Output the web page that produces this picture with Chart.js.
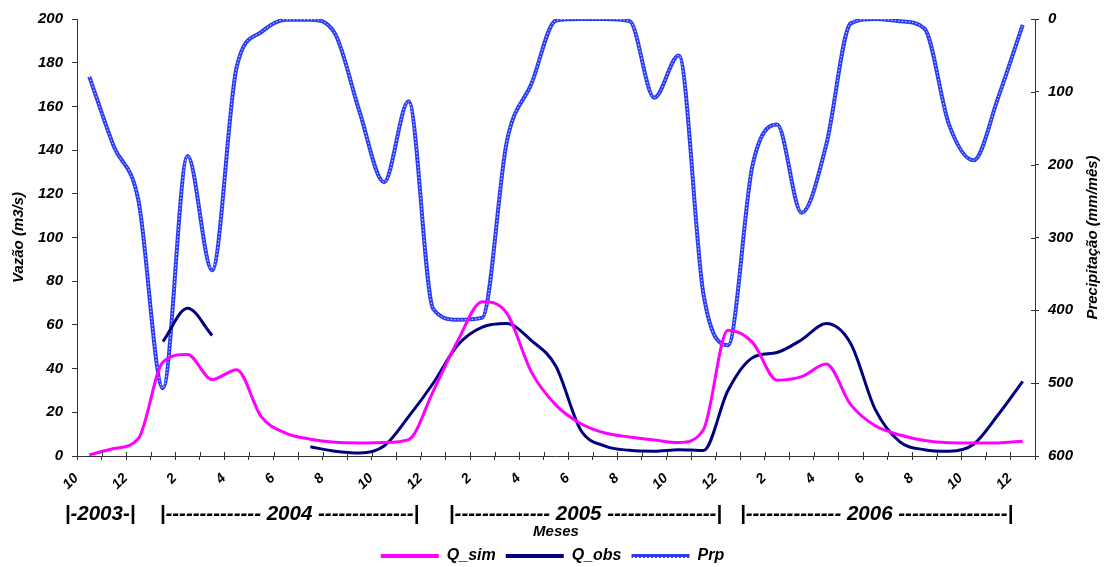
<!DOCTYPE html>
<html><head><meta charset="utf-8">
<script src="https://cdn.jsdelivr.net/npm/chart.js@4.4.1/dist/chart.umd.min.js"></script>
<style>html,body{margin:0;padding:0;background:#fff}canvas{display:block}</style>
</head><body>
<canvas id="c" width="1105" height="567"></canvas>
<script>
// Months Oct 2003 .. Dec 2006
const months = [10,11,12, 1,2,3,4,5,6,7,8,9,10,11,12, 1,2,3,4,5,6,7,8,9,10,11,12, 1,2,3,4,5,6,7,8,9,10,11,12];
const qSim = [0.5,3.4,8,43,46.5,35,39.5,18,10.5,7.7,6.3,6.0,6.2,7.5,29.6,52.8,70.6,65.3,38.4,23.3,14.9,10.5,8.7,7.3,6.2,12,57.5,52,34.7,36.3,42.1,23.5,13.8,9.6,7.1,6.1,6.0,6.0,6.8];
const qObs = [null,null,null,52.4,67.6,55.2,null,null,null,4.2,2.2,1.4,4.6,18,33.3,50.8,59,60.6,52.8,41,12,4.5,2.6,2.2,2.9,2.5,30,45,47.4,53.2,60.6,51.4,21.2,6.5,2.9,2.2,5.4,18.9,34.2];
const prp = [79,175,249,507,188,345,66,18,1,1,20,127,224,113,398,413,410,168,89,2,0,0,3,108,50,377,448,201,145,266,173,6,0,3,13,145,194,108,8];
const yearTexts = ['|-2003-|', '|-------------- 2004 --------------|', '|-------------- 2005 ----------------|', '|-------------- 2006 ----------------|'];
const yearCenterIdx = [0.44, 8.15, 20.2, 32.05];
const leftTicks = {min:0, max:200, step:20};
const rightTicks = {min:0, max:600, step:100};

const FF = 'Liberation Sans, Arial, sans-serif';
const f = (size) => ({family: FF, size: size, style: 'italic', weight: 'bold'});

// pattern for Prp legend
function prpPattern(ctx){
  const pc = document.createElement('canvas'); pc.width = 4; pc.height = 5;
  const p = pc.getContext('2d');
  p.fillStyle = '#2a3cf5'; p.fillRect(0,0,4,5);
  p.fillStyle = '#ffffff'; p.fillRect(1,2,2,1);
  return ctx.createPattern(pc, 'repeat');
}

const extras = {
  id: 'extras',
  afterDraw(chart){
    const ctx = chart.ctx, x = chart.scales.x, y2 = chart.scales.y2;
    ctx.save();
    ctx.strokeStyle = '#333'; ctx.lineWidth = 1;
    ctx.beginPath();
    for (let i = 0; i <= months.length; i++){
      const px = Math.round(x.getPixelForValue(i - 0.5)) + 0.5;
      ctx.moveTo(px, x.top - 4); ctx.lineTo(px, x.top);
    }
    for (let v = rightTicks.min; v <= rightTicks.max; v += rightTicks.step){
      const py = Math.round(y2.getPixelForValue(v)) + 0.5;
      ctx.moveTo(y2.left - 4, py); ctx.lineTo(y2.left, py);
    }
    ctx.stroke();
    // year line
    ctx.fillStyle = '#000';
    ctx.font = 'italic bold 20.5px ' + FF;
    ctx.textAlign = 'center'; ctx.textBaseline = 'middle';
    yearTexts.forEach((t, k) => {
      ctx.fillText(t, x.getPixelForValue(yearCenterIdx[k]), 514);
    });
    // right axis title (reads bottom to top)
    ctx.font = 'italic bold 15px ' + FF;
    ctx.translate(1093, (chart.chartArea.top + chart.chartArea.bottom) / 2);
    ctx.rotate(-Math.PI / 2);
    ctx.fillText('Precipitação (mm/mês)', 0, 0);
    ctx.restore();
  }
};

new Chart(document.getElementById('c'), {
  type: 'line',
  data: {
    labels: months.map(String),
    datasets: [
      {label: 'Q_sim', data: qSim, yAxisID: 'y', borderColor: '#ff00ff', backgroundColor: '#ff00ff', borderWidth: 3, pointRadius: 0, cubicInterpolationMode: 'monotone', order: 0},
      {label: 'Q_obs', data: qObs, yAxisID: 'y', borderColor: '#000080', backgroundColor: '#000080', borderWidth: 3, pointRadius: 0, cubicInterpolationMode: 'monotone', spanGaps: false, order: 1},
      {label: 'Prp_overlay', data: prp, yAxisID: 'y2', borderColor: 'rgba(255,255,255,0.85)', borderWidth: 1, borderDash: [1.5, 2], pointRadius: 0, cubicInterpolationMode: 'monotone', order: 2},
      {label: 'Prp', data: prp, yAxisID: 'y2', borderColor: '#2a3cf5', backgroundColor: '#2a3cf5', borderWidth: 4, pointRadius: 0, cubicInterpolationMode: 'monotone', order: 3}
    ]
  },
  options: {
    responsive: false,
    animation: false,
    devicePixelRatio: 1,
    layout: {padding: {top: 19, left: 0, right: 0, bottom: -7}},
    plugins: {
      tooltip: {enabled: false},
      legend: {
        position: 'bottom',
        labels: {
          font: f(16), color: '#000', boxWidth: 58, boxHeight: 4, padding: 10,
          filter: (item) => item.text !== 'Prp_overlay',
          generateLabels: (chart) => {
            const items = Chart.defaults.plugins.legend.labels.generateLabels(chart);
            items.forEach(it => {
              it.lineWidth = 0;
              it.lineDash = [];
              const ds = chart.data.datasets[it.datasetIndex];
              it.fillStyle = ds.label === 'Prp' ? prpPattern(chart.ctx) : ds.borderColor;
            });
            return items;
          }
        }
      }
    },
    scales: {
      x: {
        type: 'category',
        offset: true,
        grid: {display: true, drawOnChartArea: false, offset: true, tickLength: 4, color: '#333'},
        border: {display: true, color: '#333', width: 1},
        ticks: {
          autoSkip: false, minRotation: 45, maxRotation: 45, padding: 10, labelOffset: -13,
          font: f(14), color: '#000',
          callback: function(val, idx){ return idx % 2 === 0 ? this.getLabelForValue(val) : ''; }
        },
        title: {display: true, text: 'Meses', font: f(15), color: '#000', padding: {top: 0, bottom: -3}},
        afterFit: (s) => { s.height = 82; }
      },
      y: {
        position: 'left', min: leftTicks.min, max: leftTicks.max,
        grid: {display: true, drawOnChartArea: false, tickLength: 5, color: '#333'},
        border: {display: true, color: '#333', width: 1},
        ticks: {stepSize: leftTicks.step, font: f(15), color: '#000', padding: 9},
        title: {display: true, text: 'Vazão (m3/s)', font: f(15), color: '#000', padding: {top: 10, bottom: 0}},
        afterFit: (s) => { s.width = 77; }
      },
      y2: {
        position: 'right', min: rightTicks.min, max: rightTicks.max, reverse: true,
        grid: {display: true, drawOnChartArea: false, tickLength: 4, color: '#333'},
        border: {display: true, color: '#333', width: 1},
        ticks: {stepSize: rightTicks.step, font: f(15), color: '#000', padding: 9},
        afterFit: (s) => { s.width = 70; }
      }
    }
  },
  plugins: [extras]
});
</script>
</body></html>
